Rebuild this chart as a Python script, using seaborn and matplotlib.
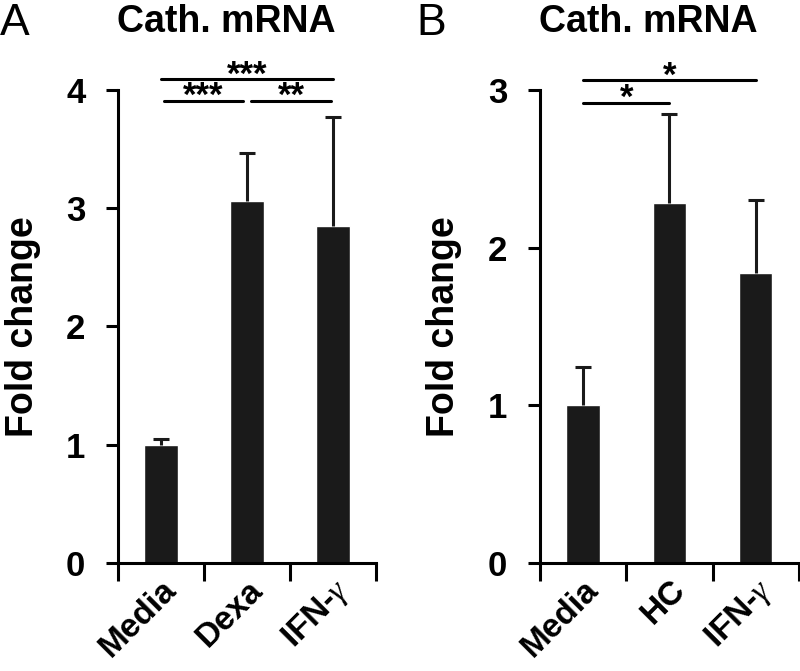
import matplotlib
matplotlib.use("Agg")
import matplotlib.pyplot as plt
import seaborn as sns
import pandas as pd

sns.set_style("white")
plt.rcParams["font.family"] = ["Liberation Sans", "DejaVu Sans"]
plt.rcParams["mathtext.fontset"] = "custom"
plt.rcParams["mathtext.it"] = "Liberation Serif:italic"
for k in ["text.color", "axes.labelcolor", "xtick.color", "ytick.color"]:
    plt.rcParams[k] = "black"

# ================= DATA =================
groups_a = ["Media", "Dexa", "IFN-$\\mathit{\\gamma}$"]
means_a = [1.0, 3.06, 2.85]
err_a = [0.05, 0.41, 0.92]

groups_b = ["Media", "HC", "IFN-$\\mathit{\\gamma}$"]
means_b = [1.0, 2.28, 1.84]
err_b = [0.24, 0.57, 0.46]

# (x1, x2, y, label)
sig_a = [(0.0, 2.0, 4.09, "***"), (0.03, 0.95, 3.91, "***"), (1.05, 1.98, 3.91, "**")]
sig_b = [(0.0, 2.0, 3.06, "*"), (0.0, 1.0, 2.92, "*")]

BAR = "#1a1a1a"
LW = 2.2

fig = plt.figure(figsize=(8, 6.71), dpi=100)
ax_a = fig.add_axes([0.1475, 0.161, 0.3225, 0.705])
ax_b = fig.add_axes([0.675, 0.161, 0.3235, 0.705])


def draw_panel(ax, groups, means, errs, sigs, ymax, letter, lx):
    df = pd.DataFrame({"group": groups, "value": means})
    sns.barplot(data=df, x="group", y="value", color=BAR, width=0.39,
                errorbar=None, ax=ax, saturation=1)
    _, caps, _ = ax.errorbar(range(len(groups)), means, yerr=[[0] * len(errs), errs],
                             fmt="none", ecolor=BAR, elinewidth=LW, capsize=6, capthick=LW)
    caps[0].set_visible(False)
    ax.set_xlim(-0.5, 2.5)
    ax.set_ylim(0, ymax)
    ax.set_yticks(range(ymax + 1))
    ax.set_xticks([-0.5, 0.5, 1.5, 2.5], minor=True)
    ax.tick_params(axis="x", which="minor", direction="out", length=13, width=LW, bottom=True)
    ax.tick_params(axis="x", which="major", length=0, pad=8)
    ax.tick_params(axis="y", direction="out", length=8.5, width=LW, left=True, pad=15,
                   labelsize=25)
    for lab in ax.get_yticklabels():
        lab.set_fontweight("bold")
    ax.set_xticks(range(len(groups)))
    ax.set_xticklabels(groups, rotation=45, ha="right", rotation_mode="anchor",
                       fontsize=24, fontweight="bold")
    for s in ["top", "right"]:
        ax.spines[s].set_visible(False)
    for s in ["left", "bottom"]:
        ax.spines[s].set_linewidth(LW)
        ax.spines[s].set_color("black")
    ax.set_xlabel("")
    ax.set_ylabel("Fold change", fontsize=27, fontweight="bold")
    ax.yaxis.set_label_coords(-0.30, 0.5)
    for x1, x2, y, txt in sigs:
        ax.plot([x1, x2], [y, y], color="black", lw=LW, clip_on=False)
        ax.annotate(txt, ((x1 + x2) / 2, y), xytext=(0, -4), textcoords="offset points",
                    ha="center", va="baseline", fontsize=25, fontweight="bold",
                    annotation_clip=False)
    ax.set_title("Cath. mRNA", fontsize=27, fontweight="bold", pad=42, x=0.42)
    fig.text(lx, 0.995, letter, fontsize=32, ha="left", va="top")


draw_panel(ax_a, groups_a, means_a, err_a, sig_a, 4, "A", 0.0)
draw_panel(ax_b, groups_b, means_b, err_b, sig_b, 3, "B", 0.52)

fig.savefig("out.png", dpi=100)
